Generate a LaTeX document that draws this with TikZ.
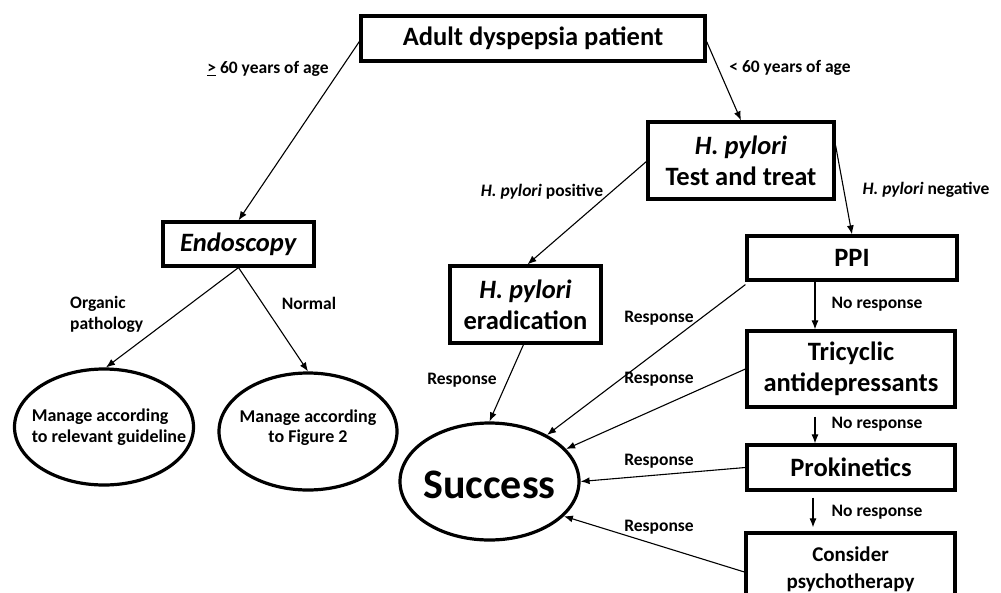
\documentclass[tikz,border=0pt]{standalone}
\usepackage{fontspec}
\setmainfont{Carlito}
\usetikzlibrary{shapes.geometric,arrows.meta}
\tikzset{
  box/.style={draw, line width=3.2pt, inner sep=0pt, align=center, font=\bfseries\fontsize{26.5}{31}\selectfont},
  oval/.style={draw, ellipse, line width=3.2pt, inner sep=0pt},
  ovaltext/.style={inner sep=0pt, font=\bfseries\fontsize{18}{20.5}\selectfont},
  arr/.style={-{Latex[length=9pt,width=7pt]}, line width=1.1pt},
  lab/.style={font=\bfseries\fontsize{17.5}{21}\selectfont, align=left, inner sep=0pt},
}
\begin{document}
\begin{tikzpicture}[x=1pt,y=-1pt]
\useasboundingbox (0,0) rectangle (1001,592);
\node[box, minimum width=344pt, minimum height=45pt] (adult) at (533,38.5) {Adult dyspepsia patient};
\node[box, minimum width=186pt, minimum height=77pt] (hp) at (741,160.5) {\textit{H. pylori}\\Test and treat};
\node[box, minimum width=151pt, minimum height=44pt] (endo) at (238.5,244) {\textit{Endoscopy}};
\node[box, minimum width=151pt, minimum height=77pt] (erad) at (525.5,304.5) {\textit{H. pylori}\\eradication};
\node[box, minimum width=210pt, minimum height=44pt] (ppi) at (852,258) {PPI};
\node[box, minimum width=208pt, minimum height=76pt] (tri) at (851,369) {Tricyclic\\antidepressants};
\node[box, minimum width=208pt, minimum height=45pt] (pro) at (851,467.5) {Prokinetics};
\node[box, minimum width=209pt, minimum height=72pt, font=\bfseries\fontsize{21}{27}\selectfont] (psy) at (850.5,569) {Consider\\psychotherapy};
\node[oval, minimum width=179pt, minimum height=116pt] (ell1) at (104,427) {};
\node[ovaltext, align=left] (t1) at ([xshift=5pt]ell1.center) {Manage according\\to relevant guideline};
\node[oval, minimum width=178pt, minimum height=117pt] (ell2) at (308,431.5) {};
\node[ovaltext, align=center] (t2) at ([yshift=4pt]ell2.center) {Manage according\\to Figure 2};
\node[oval, minimum width=179pt, minimum height=117pt] (succ) at (489.5,481.5) {};
\node[inner sep=0pt, font=\bfseries\fontsize{42}{48}\selectfont] (t3) at ([yshift=-3pt]succ.center) {Success};

\draw[arr] ([yshift=-3pt]adult.west) -- (endo.north);
\draw[arr] ([yshift=-3pt]adult.east) -- (hp.north);
\draw[arr] ([yshift=-1pt]hp.west) -- ([xshift=2pt]erad.north);
\draw[arr] ([yshift=15pt]hp.east) -- (ppi.north);
\draw[arr] (endo.south) -- ([xshift=2pt]ell1.north);
\draw[arr] (endo.south) -- (ell2.north);
\draw[arr] ([xshift=-2pt]erad.south) -- (succ.north);
\draw[arr] ([yshift=-3pt]ppi.south west) -- (succ.39);
\draw[arr] (tri.west) -- (succ.23);
\draw[arr] (pro.west) -- (succ.east);
\draw[arr] ([yshift=-3pt]psy.west) -- (succ.-25);
\draw[arr] ([xshift=-37pt]ppi.south) -- ([xshift=-37pt]ppi.south |- tri.north);
\draw[arr, shorten <=8pt] ([xshift=-36pt]tri.south) -- ([xshift=-36pt]tri.south |- pro.north);
\draw[arr, shorten <=6pt, shorten >=4pt] ([xshift=-38pt]pro.south) -- ([xshift=-38pt]pro.south |- psy.north);

\node[lab] (l1) at (268,69) {\underline{>} 60 years of age};
\node[lab] (l2) at (790,68) {< 60 years of age};
\node[lab] (l3) at (542,192) {\textit{H. pylori} positive};
\node[lab] (l4) at (926,190) {\textit{H. pylori} negative};
\node[lab, anchor=west] (l5) at (70,314) {Organic\\pathology};
\node[lab] (l6) at (309,303) {Normal};
\node[lab] (l7) at (462,380) {Response};
\node[lab] (l8) at (659,318) {Response};
\node[lab] (l9) at (659,379) {Response};
\node[lab] (l10) at (659,461) {Response};
\node[lab] (l11) at (659,527) {Response};
\node[lab] (l12) at (877,304) {No response};
\node[lab] (l13) at (877,424) {No response};
\node[lab] (l14) at (877,512) {No response};
\end{tikzpicture}
\end{document}
